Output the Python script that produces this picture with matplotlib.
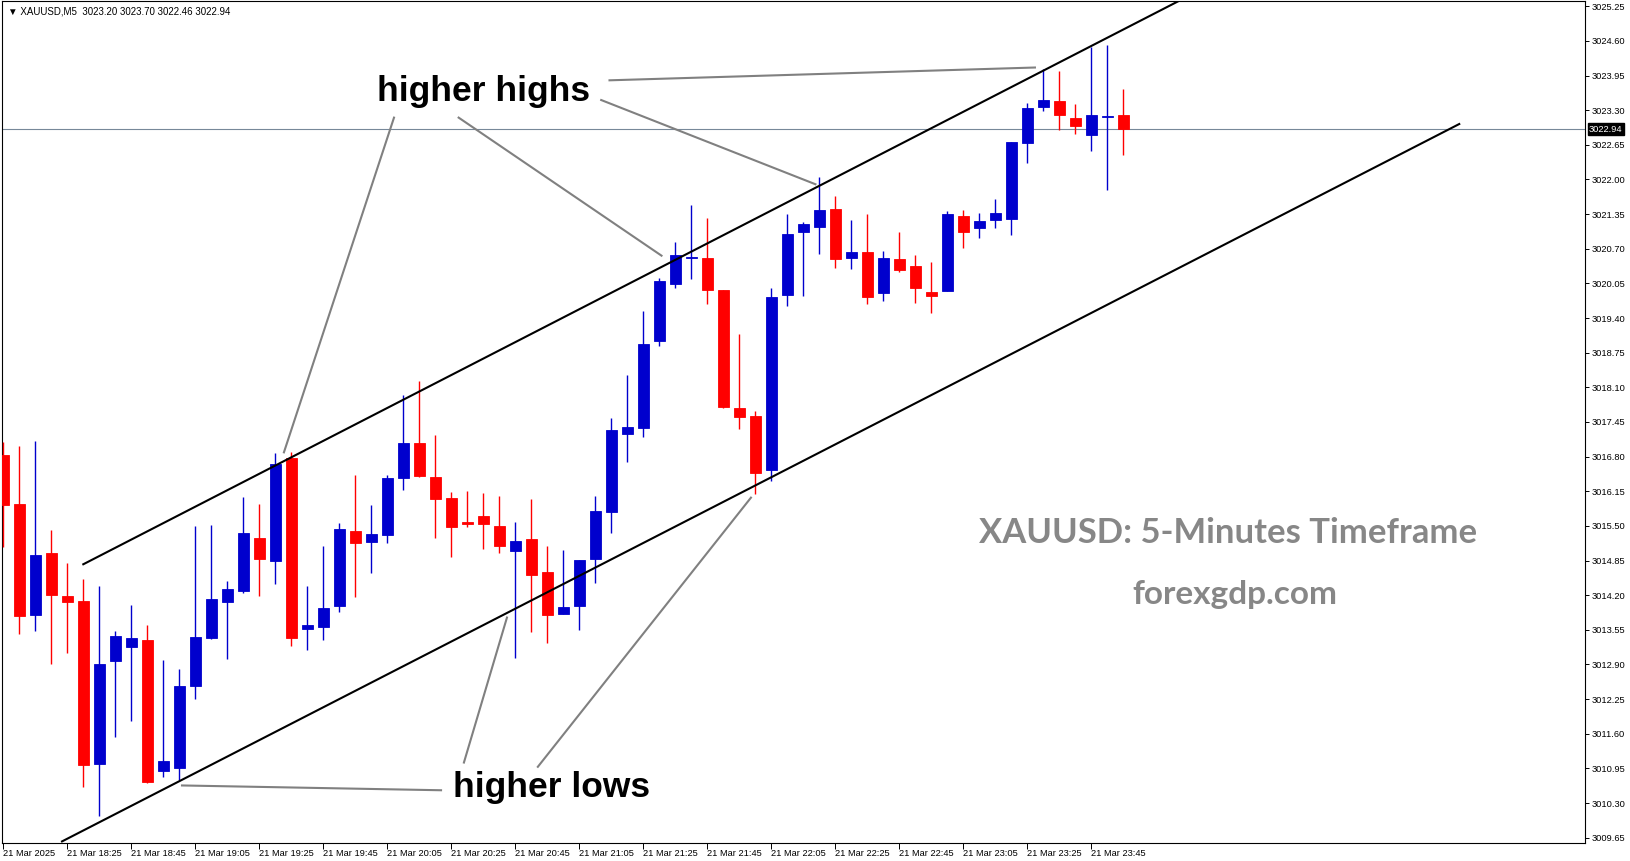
import matplotlib
matplotlib.use("Agg")
import matplotlib.pyplot as plt
import numpy as np

# XAUUSD M5 candles, 21 Mar 18:05 -> 23:55
opens = [3016.83, 3015.92, 3013.83, 3014.99, 3014.18, 3014.09, 3011.04, 3012.97, 3013.23, 3013.36,
         3010.91, 3010.96, 3012.50, 3013.40, 3014.08, 3014.28, 3015.27, 3014.85, 3016.77, 3013.57,
         3013.61, 3014.00, 3015.40, 3015.20, 3015.33, 3016.40, 3017.05, 3016.42, 3016.02, 3015.57,
         3015.69, 3015.50, 3015.03, 3015.25, 3014.63, 3013.85, 3014.00, 3014.87, 3015.76, 3017.23,
         3017.34, 3018.97, 3020.03, 3020.53, 3020.53, 3019.92, 3017.71, 3017.56, 3016.54, 3019.84,
         3021.02, 3021.11, 3021.45, 3020.53, 3020.64, 3019.87, 3020.51, 3020.38, 3019.89, 3019.91,
         3021.31, 3021.09, 3021.24, 3021.26, 3022.69, 3023.35, 3023.47, 3023.15, 3022.84, 3023.18,
         3023.20]
highs = [3017.07, 3016.99, 3017.09, 3015.42, 3014.80, 3014.50, 3014.37, 3013.53, 3014.02, 3013.64,
         3012.98, 3012.82, 3015.50, 3015.52, 3014.47, 3016.05, 3015.92, 3016.86, 3016.89, 3014.37,
         3015.12, 3015.55, 3016.45, 3015.89, 3016.45, 3017.96, 3018.22, 3017.21, 3016.14, 3016.16,
         3016.12, 3016.06, 3015.57, 3016.00, 3015.12, 3015.05, 3014.86, 3016.06, 3017.52, 3018.33,
         3019.53, 3020.15, 3020.83, 3021.52, 3021.28, 3019.93, 3019.10, 3017.66, 3019.96, 3021.35,
         3021.20, 3022.05, 3021.69, 3021.24, 3021.35, 3020.66, 3021.01, 3020.58, 3020.45, 3021.41,
         3021.43, 3021.37, 3021.63, 3022.71, 3023.43, 3024.08, 3024.03, 3023.42, 3024.49, 3024.52,
         3023.70]
lows = [3015.11, 3013.48, 3013.53, 3012.91, 3013.12, 3010.61, 3010.06, 3011.54, 3011.83, 3010.68,
        3010.78, 3010.73, 3012.25, 3013.38, 3013.01, 3014.24, 3014.19, 3014.41, 3013.25, 3013.18,
        3013.35, 3013.89, 3014.17, 3014.62, 3015.18, 3016.18, 3016.42, 3015.28, 3014.92, 3015.47,
        3015.07, 3015.00, 3013.03, 3013.50, 3013.31, 3013.85, 3013.55, 3014.43, 3015.37, 3016.70,
        3017.17, 3018.88, 3019.97, 3020.13, 3019.67, 3017.71, 3017.32, 3016.09, 3016.35, 3019.63,
        3019.82, 3020.61, 3020.34, 3020.32, 3019.67, 3019.72, 3020.27, 3019.69, 3019.50, 3019.91,
        3020.72, 3020.90, 3021.09, 3020.96, 3022.31, 3023.28, 3022.93, 3022.86, 3022.54, 3021.80,
        3022.46]
closes = [3015.89, 3013.81, 3014.95, 3014.21, 3014.08, 3011.02, 3012.91, 3013.43, 3013.40, 3010.70,
          3011.09, 3012.50, 3013.42, 3014.13, 3014.32, 3015.37, 3014.88, 3016.67, 3013.40, 3013.64,
          3013.96, 3015.44, 3015.18, 3015.35, 3016.40, 3017.05, 3016.44, 3016.01, 3015.48, 3015.54,
          3015.54, 3015.13, 3015.22, 3014.58, 3013.83, 3013.98, 3014.86, 3015.78, 3017.30, 3017.36,
          3018.91, 3020.09, 3020.58, 3020.54, 3019.93, 3017.73, 3017.55, 3016.50, 3019.79, 3020.98,
          3021.16, 3021.43, 3020.51, 3020.64, 3019.80, 3020.53, 3020.31, 3019.97, 3019.82, 3021.35,
          3021.02, 3021.22, 3021.37, 3022.70, 3023.34, 3023.49, 3023.21, 3023.01, 3023.21, 3023.19,
          3022.94]

time_labels = ["21 Mar 2025", "21 Mar 18:25", "21 Mar 18:45", "21 Mar 19:05", "21 Mar 19:25",
               "21 Mar 19:45", "21 Mar 20:05", "21 Mar 20:25", "21 Mar 20:45", "21 Mar 21:05",
               "21 Mar 21:25", "21 Mar 21:45", "21 Mar 22:05", "21 Mar 22:25", "21 Mar 22:45",
               "21 Mar 23:05", "21 Mar 23:25", "21 Mar 23:45"]
price_ticks = [3009.65, 3010.30, 3010.95, 3011.60, 3012.25, 3012.90, 3013.55, 3014.20, 3014.85,
               3015.50, 3016.15, 3016.80, 3017.45, 3018.10, 3018.75, 3019.40, 3020.05, 3020.70,
               3021.35, 3022.00, 3022.65, 3023.30, 3023.95, 3024.60, 3025.25]

# trend channel (bar index, price)
upper_channel = ([5.0, 74.0], [3014.78, 3025.43])
lower_channel = ([3.67, 91.0], [3009.58, 3023.04])

# pointer lines from the labels to the touches
highs_pointers = [([24.42, 17.54], [3023.16, 3016.88]),
                  ([28.46, 41.14], [3023.16, 3020.57]),
                  ([37.37, 50.76], [3023.49, 3021.91]),
                  ([37.89, 64.48], [3023.86, 3024.10])]
lows_pointers = [([11.17, 27.36], [3010.63, 3010.54]),
                 ([28.79, 31.48], [3011.06, 3013.78]),
                 ([33.41, 46.73], [3010.98, 3016.03])]

UP = "#0000cd"
DOWN = "#ff0000"
small_font = ["Liberation Sans", "DejaVu Sans"]

fig = plt.figure(figsize=(16.31, 8.61), dpi=100)
ax = fig.add_axes([2 / 1631, 18.3 / 861, 1583 / 1631, 841.7 / 861])

x = np.arange(len(opens))
o = np.array(opens)
c = np.array(closes)
colors = [UP if cl >= op else DOWN for op, cl in zip(opens, closes)]

# wicks, then bodies
ax.vlines(x, lows, highs, colors=colors, linewidth=1.0, zorder=3)
ax.bar(x, np.abs(c - o), bottom=np.minimum(o, c), width=0.68, color=colors,
       edgecolor=colors, linewidth=0.6, zorder=4)

# current price line
last = closes[-1]
ax.axhline(last, color="#778899", linewidth=0.8, zorder=1)

# channel
ax.plot(*upper_channel, color="black", linewidth=1.5, zorder=5)
ax.plot(*lower_channel, color="black", linewidth=1.5, zorder=5)

for xs, ys in highs_pointers + lows_pointers:
    ax.plot(xs, ys, color="#808080", linewidth=1.5, zorder=5)

ax.text(30.02, 3023.65, "higher highs", fontsize=25.5, fontweight="bold", family="Liberation Sans",
        ha="center", va="center", color="black", zorder=6)
ax.text(34.29, 3010.59, "higher lows", fontsize=25.5, fontweight="bold", family="Liberation Sans",
        ha="center", va="center", color="black", zorder=6)
ax.text(76.58, 3015.37, "XAUUSD: 5-Minutes Timeframe", fontsize=24.9, fontweight="bold",
        family="Lato", ha="center", va="center", color="#878787", zorder=6)
ax.text(76.96, 3014.22, "forexgdp.com", fontsize=24, fontweight="bold",
        family="Lato", ha="center", va="center", color="#878787", zorder=6)

# header
ax.text(0.004, 0.993, "\u25bc XAUUSD,M5  %.2f %.2f %.2f %.2f" % (opens[-1], highs[-1], lows[-1], closes[-1]),
        transform=ax.transAxes, fontsize=7, family=small_font, ha="left", va="top")

ax.set_xlim(-0.081, 98.86)
ax.set_ylim(3009.556, 3025.348)

ax.set_xticks(np.arange(0, len(opens), 4))
ax.set_xticklabels(time_labels, ha="left", fontsize=6.7, family=small_font)
ax.set_yticks(price_ticks)
ax.set_yticklabels(["%.2f" % p for p in price_ticks], fontsize=6.7, family=small_font)
ax.tick_params(axis="x", length=4, width=0.7, pad=0.5, direction="out")
ax.tick_params(axis="y", left=False, labelleft=False, right=True, labelright=True,
               length=3, width=0.7, pad=2, direction="out")
for s in ax.spines.values():
    s.set_linewidth(0.8)

# price tag on the right axis
ax.text(1.0025, last, "%.2f" % last, transform=ax.get_yaxis_transform(), fontsize=6.7,
        family=small_font, color="white", ha="left", va="center", zorder=10,
        bbox=dict(boxstyle="square,pad=0.15", facecolor="black", edgecolor="black"), clip_on=False)

fig.savefig("out.png", dpi=100, facecolor="white")
